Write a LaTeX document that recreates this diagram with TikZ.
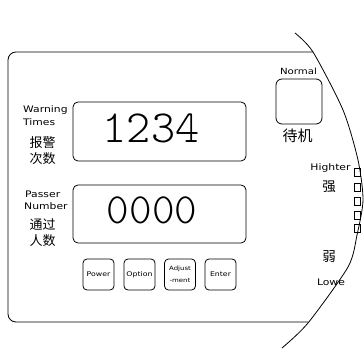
\documentclass[tikz,border=0pt]{standalone}
\usepackage{fontspec}
\newfontfamily\cjk{Noto Sans CJK SC}
\newfontfamily\plotf{DejaVu Sans}[FakeStretch=1.2]
\newcommand\digf[1]{\fontsize{#1}{#1}\ttfamily\fontseries{l}\selectfont}
\newcommand\lblf[1]{\fontsize{#1}{#1}\plotf\selectfont}
\newcommand\cjkf[1]{\fontsize{#1}{#1}\cjk\selectfont}
\tikzset{
  ln/.style={line width=0.8pt, black},
  disp/.style={draw, line width=0.8pt, rounded corners=5pt, inner sep=0pt},
  btn/.style={draw, line width=0.8pt, rounded corners=4pt, minimum width=31pt, minimum height=31pt, inner sep=0pt, align=center},
  sq/.style={draw, line width=0.7pt, minimum width=6pt, minimum height=8pt, inner sep=0pt},
  lab/.style={inner sep=0pt, align=left},
  cj/.style={inner sep=0pt, align=center},
}
\begin{document}
\begin{tikzpicture}[x=1pt, y=-1pt]
\useasboundingbox (0,0) rectangle (364,350);
% outer panel
\draw[ln, rounded corners=8pt] (313,52) -- (8,52) -- (8,322) -- (308,322);
% curved edge
\draw[ln] plot[smooth, tension=0.45] coordinates {(295,33) (313,52) (343,110) (358,160) (363,200) (357,235) (348,267) (308,323) (282,348)};
% display 1
\node[disp, minimum width=173pt, minimum height=59pt] (d1) at (159.5,131.5) {};
\node[inner sep=0pt] (n1) at (151,128) {\digf{46}1234};
\node[lab, anchor=west] (w1) at (23,110) {\lblf{9}Warning};
\node[lab, anchor=west] (w2) at (23,122) {\lblf{9}Times};
\node[cj] (c1) at (42.5,143) {\cjkf{13}报警};
\node[cj] (c2) at (42.5,159) {\cjkf{13}次数};
% display 2
\node[disp, minimum width=173pt, minimum height=58pt] (d2) at (159.5,214) {};
\node[inner sep=0pt] (n2) at (152,210) {\digf{43}0000};
\node[lab, anchor=west] (p1) at (25,194) {\lblf{9}Passer};
\node[lab, anchor=west] (p2) at (24,206) {\lblf{9}Number};
\node[cj] (c3) at (42.5,225) {\cjkf{13}通过};
\node[cj] (c4) at (42.5,241) {\cjkf{13}人数};
% buttons
\node[btn] (b1) at (98.5,274.5) {\lblf{6.5}Power};
\node[btn] (b2) at (139.5,274.5) {\lblf{6.5}Option};
\node[btn] (b3) at (180,274.5) {\lblf{5.8}Adjust\\[-0.5pt]\lblf{5.8}-ment};
\node[btn] (b4) at (220.5,274.5) {\lblf{6.5}Enter};
% normal button
\node[draw, line width=0.8pt, rounded corners=6pt, minimum width=46pt, minimum height=45pt, inner sep=0pt] (nb) at (299,101.5) {};
\node[lab] (nt) at (298.5,71.5) {\lblf{8.5}Normal};
\node[cj] (c5) at (297.5,135.5) {\cjkf{15}待机};
% level indicator
\node[lab] (hi) at (330.5,168) {\lblf{9}Highter};
\node[cj] (c6) at (329,186.5) {\cjkf{13.5}强};
\node[cj] (c7) at (329,257) {\cjkf{13.5}弱};
\node[lab] (lo) at (331,282) {\lblf{9}Lowe};
\node[sq] (s1) at (357,172) {};
\node[sq] (s2) at (357,187.5) {};
\node[sq] (s3) at (357,201) {};
\node[sq] (s4) at (357,215) {};
\node[sq] (s5) at (357,228) {};
\end{tikzpicture}
\end{document}
